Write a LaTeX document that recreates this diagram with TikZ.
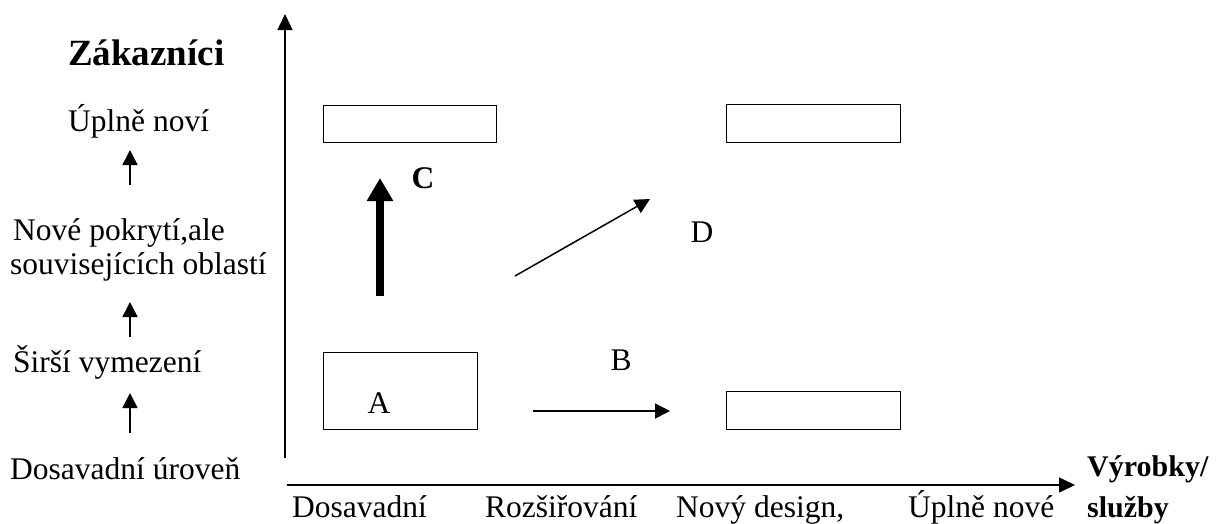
\documentclass[tikz,border=0pt]{standalone}
\usepackage{fontspec}
\setmainfont{Liberation Serif}
\usetikzlibrary{arrows.meta}
\tikzset{
  lbl/.style={inner sep=0pt, anchor=base west, font=\fontsize{31.5}{36}\selectfont},
  blbl/.style={inner sep=0pt, anchor=base west, font=\fontsize{30}{36}\selectfont\bfseries},
  letter/.style={inner sep=0pt, anchor=base, font=\fontsize{31.5}{36}\selectfont},
  box/.style={draw, line width=1.3pt, inner sep=0pt, anchor=north west},
  axis/.style={line width=1.5pt, -{Triangle[length=16pt,width=15pt]}},
  small/.style={line width=1.5pt, -{Triangle[length=15pt,width=15pt]}},
  thick arr/.style={line width=8pt, -{Triangle[length=23pt,width=25pt]}},
}
\begin{document}
\begin{tikzpicture}[x=1pt,y=-1pt]
\useasboundingbox (0,0) rectangle (1218,523);
% axes
\coordinate (o) at (287,485);
\coordinate (vb) at (285,458);
\coordinate (vt) at (285,14);
\coordinate (ht) at (1075,485);
\draw[axis] (vb) -- (vt);
\draw[axis] (o) -- (ht);
% left labels
\node[blbl, font=\fontsize{37}{42}\selectfont\bfseries] (zak) at (68,65) {Zákazníci};
\node[lbl] (l4) at (68,131) {Úplně noví};
\node[lbl] (l3a) at (13,240) {Nové pokrytí,ale};
\node[lbl] (l3b) at (10,274) {souvisejících oblastí};
\node[lbl] (l2) at (13,372) {Širší vymezení};
\node[lbl] (l1) at (10,479) {Dosavadní úroveň};
\coordinate (a1s) at (130,433); \coordinate (a1e) at (130,393);
\coordinate (a2s) at (130,337); \coordinate (a2e) at (130,302);
\coordinate (a3s) at (130,185); \coordinate (a3e) at (130,150);
\draw[small] (a1s) -- (a1e);
\draw[small] (a2s) -- (a2e);
\draw[small] (a3s) -- (a3e);
% bottom labels
\node[lbl] (b1) at (292,517) {Dosavadní};
\node[lbl] (b2) at (485,517) {Rozšiřování};
\node[lbl] (b3) at (676,517) {Nový design,};
\node[lbl] (b4) at (908,517) {Úplně nové};
\node[blbl] (vy) at (1087,476) {Výrobky/};
\node[blbl] (sl) at (1087,517) {služby};
% boxes
\node[box, minimum width=173pt, minimum height=37pt] (r1) at (323,105) {};
\node[box, minimum width=174pt, minimum height=38pt] (r2) at (726,104) {};
\node[box, minimum width=154pt, minimum height=77pt] (rA) at (323,352) {};
\node[box, minimum width=174pt, minimum height=38pt] (r4) at (726,391) {};
% letters
\node[letter] (A) at (379,413) {A};
\node[letter] (B) at (621,370) {B};
\node[letter, font=\fontsize{31.5}{36}\selectfont\bfseries] (C) at (423,188) {C};
\node[letter] (D) at (702,242) {D};
% arrows
\coordinate (cs) at (380,296); \coordinate (ce) at (380,178);
\draw[thick arr] (cs) -- (ce);
\coordinate (ds) at (515,276); \coordinate (de) at (650,199);
\draw[small] (ds) -- (de);
\coordinate (bs) at (533,411); \coordinate (be) at (670,411);
\draw[small] (bs) -- (be);
\end{tikzpicture}
\end{document}
